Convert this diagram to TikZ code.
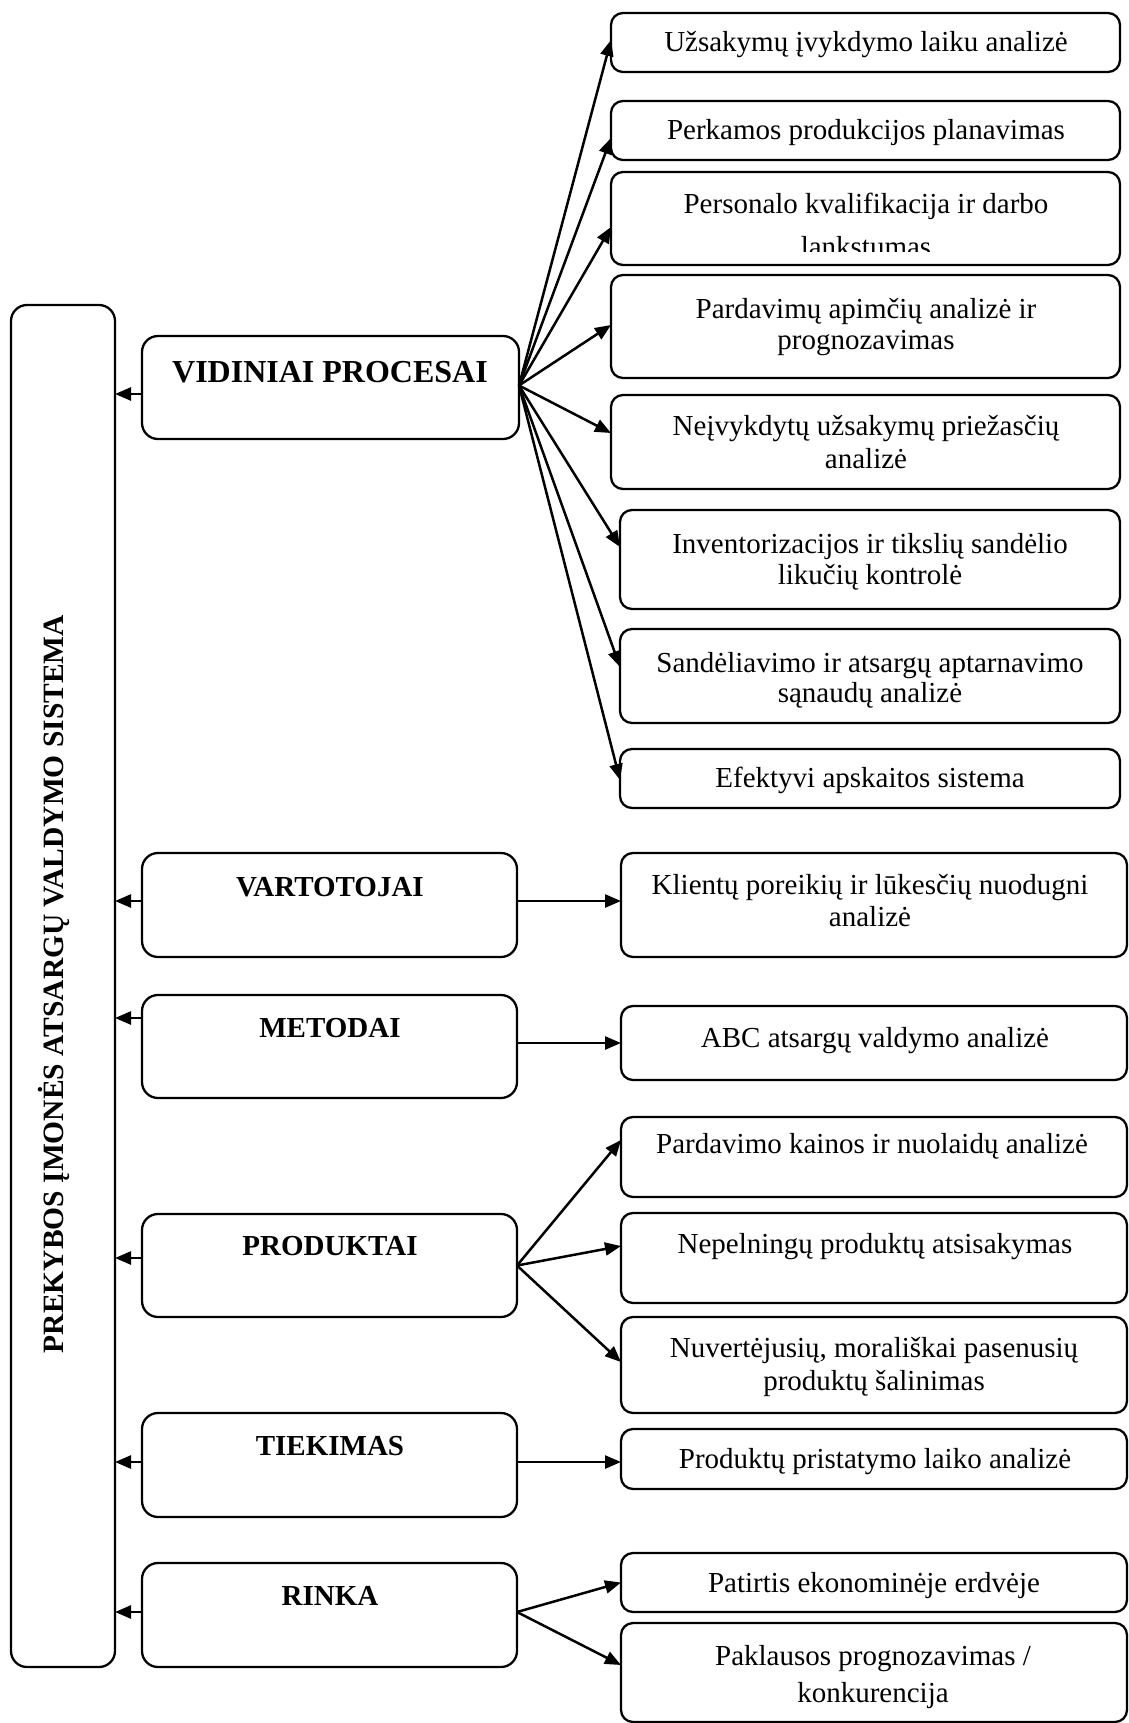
\documentclass[tikz,border=0pt]{standalone}
\usepackage{fontspec}
\setmainfont{Liberation Serif}
\usetikzlibrary{arrows.meta,fit}
\begin{document}
\begin{tikzpicture}[x=1pt,y=-1pt,
  box/.style={draw, line width=2.3pt, rounded corners=12pt, inner sep=0pt, outer sep=0pt},
  bigbox/.style={box, rounded corners=16pt},
  arr/.style={line width=2.5pt, -{Triangle[length=16pt,width=13pt]}},
  txt/.style={anchor=base, inner sep=0pt, font=\fontsize{29}{34}\selectfont},
  ttl/.style={anchor=base, inner sep=0pt, font=\fontsize{29}{34}\selectfont\bfseries},
]
\useasboundingbox (0,0) rectangle (1129,1723);

% system frame on the left
\node[bigbox, fit={(11,305) (115,1667)}] (sys) {};
\node[ttl, rotate=90, font=\fontsize{29.5}{34}\selectfont\bfseries] (tsys) at (63,984) {PREKYBOS ĮMONĖS ATSARGŲ VALDYMO SISTEMA};

% category boxes
\node[bigbox, fit={(142,336) (519,439)}] (vid) {};
\node[bigbox, fit={(142,853) (517,957)}] (vart) {};
\node[bigbox, fit={(142,995) (517,1098)}] (met) {};
\node[bigbox, fit={(142,1214) (517,1317)}] (prod) {};
\node[bigbox, fit={(142,1413) (517,1517)}] (tiek) {};
\node[bigbox, fit={(142,1563) (517,1667)}] (rink) {};

\node[ttl, font=\fontsize{32}{36}\selectfont\bfseries] (tvid) at (330,382) {VIDINIAI PROCESAI};
\node[ttl] (tvart) at (330,896) {VARTOTOJAI};
\node[ttl] (tmet) at (330,1037) {METODAI};
\node[ttl] (tprod) at (330,1255) {PRODUKTAI};
\node[ttl] (ttiek) at (330,1455) {TIEKIMAS};
\node[ttl] (trink) at (330,1605) {RINKA};

% factor boxes
\node[box, fit={(611,13) (1120,72)}] (r1) {};
\node[box, fit={(611,101) (1120,160)}] (r2) {};
\node[box, fit={(611,172) (1120,265)}] (r3) {};
\node[box, fit={(611,275) (1120,378)}] (r4) {};
\node[box, fit={(611,395) (1120,489)}] (r5) {};
\node[box, fit={(620,510) (1120,609)}] (r6) {};
\node[box, fit={(620,629) (1120,723)}] (r7) {};
\node[box, fit={(620,749) (1120,808)}] (r8) {};
\node[box, fit={(621,853) (1127,957)}] (k1) {};
\node[box, fit={(621,1006) (1127,1080)}] (m1) {};
\node[box, fit={(621,1117) (1127,1197)}] (p1) {};
\node[box, fit={(621,1213) (1127,1303)}] (p2) {};
\node[box, fit={(621,1317) (1127,1413)}] (p3) {};
\node[box, fit={(621,1429) (1127,1489)}] (t1) {};
\node[box, fit={(621,1553) (1127,1612)}] (n1) {};
\node[box, fit={(621,1623) (1127,1722)}] (n2) {};

\node[txt] (lr1) at (866,52) {Užsakymų įvykdymo laiku analizė};
\node[txt] (lr2) at (866,140) {Perkamos produkcijos planavimas};
\node[txt] (lr3a) at (866,213) {Personalo kvalifikacija ir darbo};
\begin{scope}
  \clip (611,230) rectangle (1120,251);
  \node[txt] (lr3b) at (866,256) {lankstumas};
\end{scope}
\node[txt] (lr4a) at (866,318) {Pardavimų apimčių analizė ir};
\node[txt] (lr4b) at (866,349) {prognozavimas};
\node[txt] (lr5a) at (866,435) {Neįvykdytų užsakymų priežasčių};
\node[txt] (lr5b) at (866,468) {analizė};
\node[txt] (lr6a) at (870,553) {Inventorizacijos ir tikslių sandėlio};
\node[txt] (lr6b) at (870,584) {likučių kontrolė};
\node[txt] (lr7a) at (870,672) {Sandėliavimo ir atsargų aptarnavimo};
\node[txt] (lr7b) at (870,702) {sąnaudų analizė};
\node[txt] (lr8) at (870,787) {Efektyvi apskaitos sistema};
\node[txt] (lk1a) at (870,894) {Klientų poreikių ir lūkesčių nuodugni};
\node[txt] (lk1b) at (870,926) {analizė};
\node[txt] (lm1) at (875,1047) {ABC atsargų valdymo analizė};
\node[txt] (lp1) at (872,1153) {Pardavimo kainos ir nuolaidų analizė};
\node[txt] (lp2) at (875,1253) {Nepelningų produktų atsisakymas};
\node[txt] (lp3a) at (874,1357) {Nuvertėjusių, morališkai pasenusių};
\node[txt] (lp3b) at (874,1390) {produktų šalinimas};
\node[txt] (lt1) at (875,1468) {Produktų pristatymo laiko analizė};
\node[txt] (ln1) at (874,1592) {Patirtis ekonominėje erdvėje};
\node[txt] (ln2a) at (873,1665) {Paklausos prognozavimas /};
\node[txt] (ln2b) at (873,1702) {konkurencija};

% arrows from the categories into the system frame
\coordinate (cv) at ([yshift=-6.5pt]vid.west);
\coordinate (ca) at ([yshift=4pt]vart.west);
\coordinate (cm) at ([yshift=28.5pt]met.west);
\coordinate (cp) at ([yshift=7.5pt]prod.west);
\coordinate (ct) at ([yshift=3pt]tiek.west);
\coordinate (cr) at ([yshift=3pt]rink.west);
\foreach \c in {cv,ca,cm,cp,ct,cr}
  \draw[arr] (\c) -- (\c -| sys.east);

% fan of internal processes
\coordinate (fv) at ([yshift=2pt]vid.east);
\draw[arr] (fv) -- ([yshift=2.5pt]r1.west);
\draw[arr] (fv) -- ([yshift=-7.5pt]r2.west);
\draw[arr] (fv) -- ([yshift=-8.5pt]r3.west);
\draw[arr] (fv) -- ([yshift=1.5pt]r4.west);
\draw[arr] (fv) -- ([yshift=9pt]r5.west);
\draw[arr] (fv) -- ([yshift=12.5pt]r6.west);
\draw[arr] (fv) -- ([yshift=9pt]r7.west);
\draw[arr] (fv) -- ([yshift=-1.5pt]r8.west);

% consumers, methods, supply
\coordinate (va) at ([yshift=4pt]vart.east);
\draw[arr] (va) -- (va -| k1.west);
\draw[arr] (m1.west -| met.east) -- (m1.west);
\coordinate (te) at ([yshift=3pt]tiek.east);
\draw[arr] (te) -- (te -| t1.west);

% products
\coordinate (fp) at (prod.east);
\draw[arr] (fp) -- ([yshift=17pt]p1.west);
\draw[arr] (fp) -- ([yshift=12pt]p2.west);
\draw[arr] (fp) -- ([yshift=3pt]p3.west);

% market
\coordinate (fr) at ([yshift=3pt]rink.east);
\draw[arr] (fr) -- (n1.west);
\draw[arr] (fr) -- ([yshift=7.5pt]n2.west);
\end{tikzpicture}
\end{document}
